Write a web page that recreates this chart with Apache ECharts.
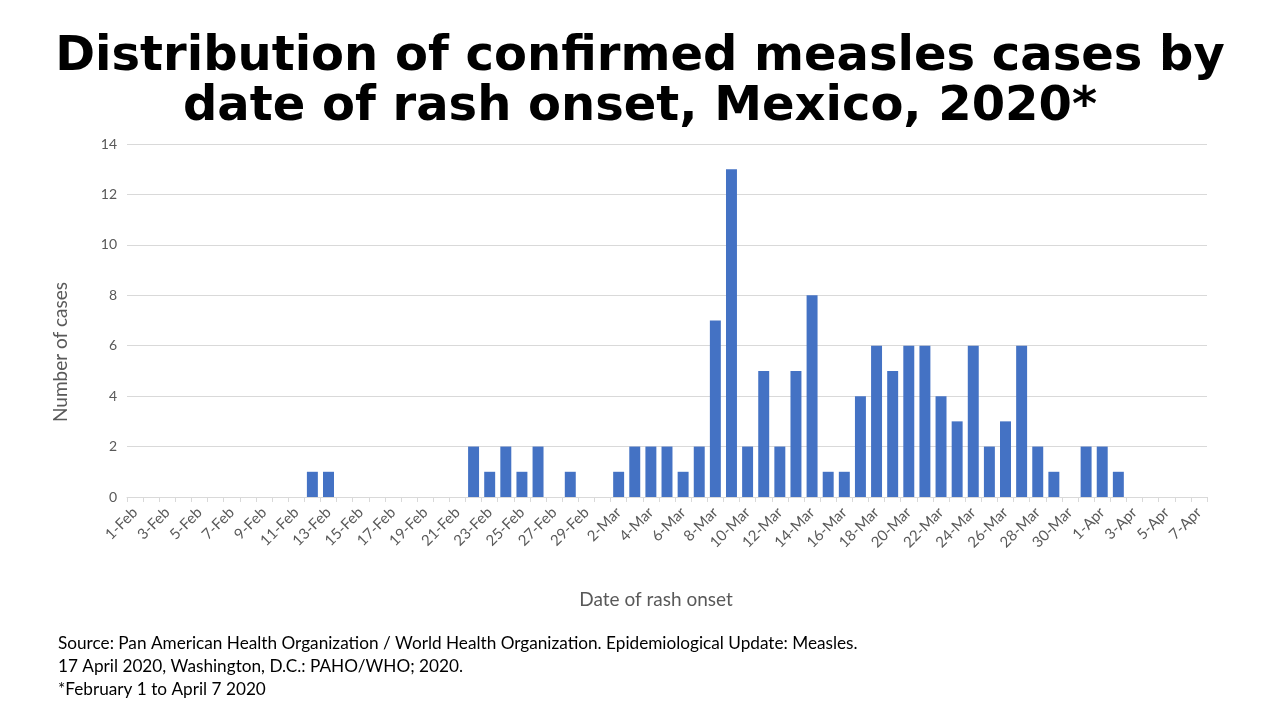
<!DOCTYPE html>
<html><head><meta charset="utf-8">
<script src="https://cdn.jsdelivr.net/npm/echarts@6/dist/echarts.min.js"></script>
<style>html,body{margin:0;padding:0;background:#fff;}#c{width:1280px;height:720px;}</style>
</head><body><div id="c"></div>
<script>
const febDays = 29, marDays = 31, aprDays = 7;
const categories = [];
for (let d = 1; d <= febDays; d++) categories.push(d + '-Feb');
for (let d = 1; d <= marDays; d++) categories.push(d + '-Mar');
for (let d = 1; d <= aprDays; d++) categories.push(d + '-Apr');

// Cases per day (1-Feb .. 7-Apr)
const febCases = [0,0,0,0,0,0,0,0,0,0,0,1,1,0,0,0,0,0,0,0,0,2,1,2,1,2,0,1,0];
const marCases = [0,1,2,2,2,1,2,7,13,2,5,2,5,8,1,1,4,6,5,6,6,4,3,6,2,3,6,2,1,0,2];
const aprCases = [2,1,0,0,0,0,0];
const cases = febCases.concat(marCases, aprCases);

const yTicks = [0,2,4,6,8,10,12,14];
const titleLines = ['Distribution of confirmed measles cases by', 'date of rash onset, Mexico, 2020*'];
const yAxisName = 'Number of cases';
const xAxisName = 'Date of rash onset';
const sourceLines = [
  'Source: Pan American Health Organization / World Health Organization. Epidemiological Update: Measles.',
  '17 April 2020, Washington, D.C.: PAHO/WHO; 2020.',
  '*February 1 to April 7 2020'
];

const chart = echarts.init(document.getElementById('c'));
chart.setOption({
  animation: false,
  backgroundColor: '#ffffff',
  title: [{
    text: titleLines.join('\n'),
    left: 'center', top: 28,
    textStyle: {fontFamily: 'DejaVu Sans', fontWeight: 'bold', fontSize: 48, lineHeight: 50, color: '#000'}
  }],
  graphic: sourceLines.map((t, i) => ({
    type: 'text', left: 58, top: 635 + i * 23,
    style: {text: t, font: '17.2px Lato', fill: '#000'}
  })).concat([{
    type: 'text', x: 61, y: 352, rotation: Math.PI / 2,
    style: {text: yAxisName, font: '19px Lato', fill: '#595959', align: 'center', verticalAlign: 'middle'}
  }, {
    type: 'text', x: 656, y: 600,
    style: {text: xAxisName, font: '19px Lato', fill: '#595959', align: 'center', verticalAlign: 'middle'}
  }]),
  grid: {left: 127, right: 73, top: 144, bottom: 223},
  xAxis: {
    type: 'category', data: categories,
    axisLine: {lineStyle: {color: '#d9d9d9'}},
    axisTick: {show: true, interval: 0, alignWithLabel: false, length: 5, lineStyle: {color: '#d9d9d9'}},
    axisLabel: {interval: 1, rotate: 45, fontFamily: 'Lato', fontSize: 15, color: '#595959', margin: 13}
  },
  yAxis: {
    type: 'value', min: 0, max: 14, interval: 2,
    axisLine: {show: false}, axisTick: {show: false},
    axisLabel: {fontFamily: 'Lato', fontSize: 14, color: '#595959', margin: 10,
      formatter: v => yTicks.includes(v) ? String(v) : ''},
    splitLine: {lineStyle: {color: '#d9d9d9'}}
  },
  series: [{
    type: 'bar', data: cases, barCategoryGap: '32%',
    itemStyle: {color: '#4472C4'}
  }]
});
</script></body></html>
